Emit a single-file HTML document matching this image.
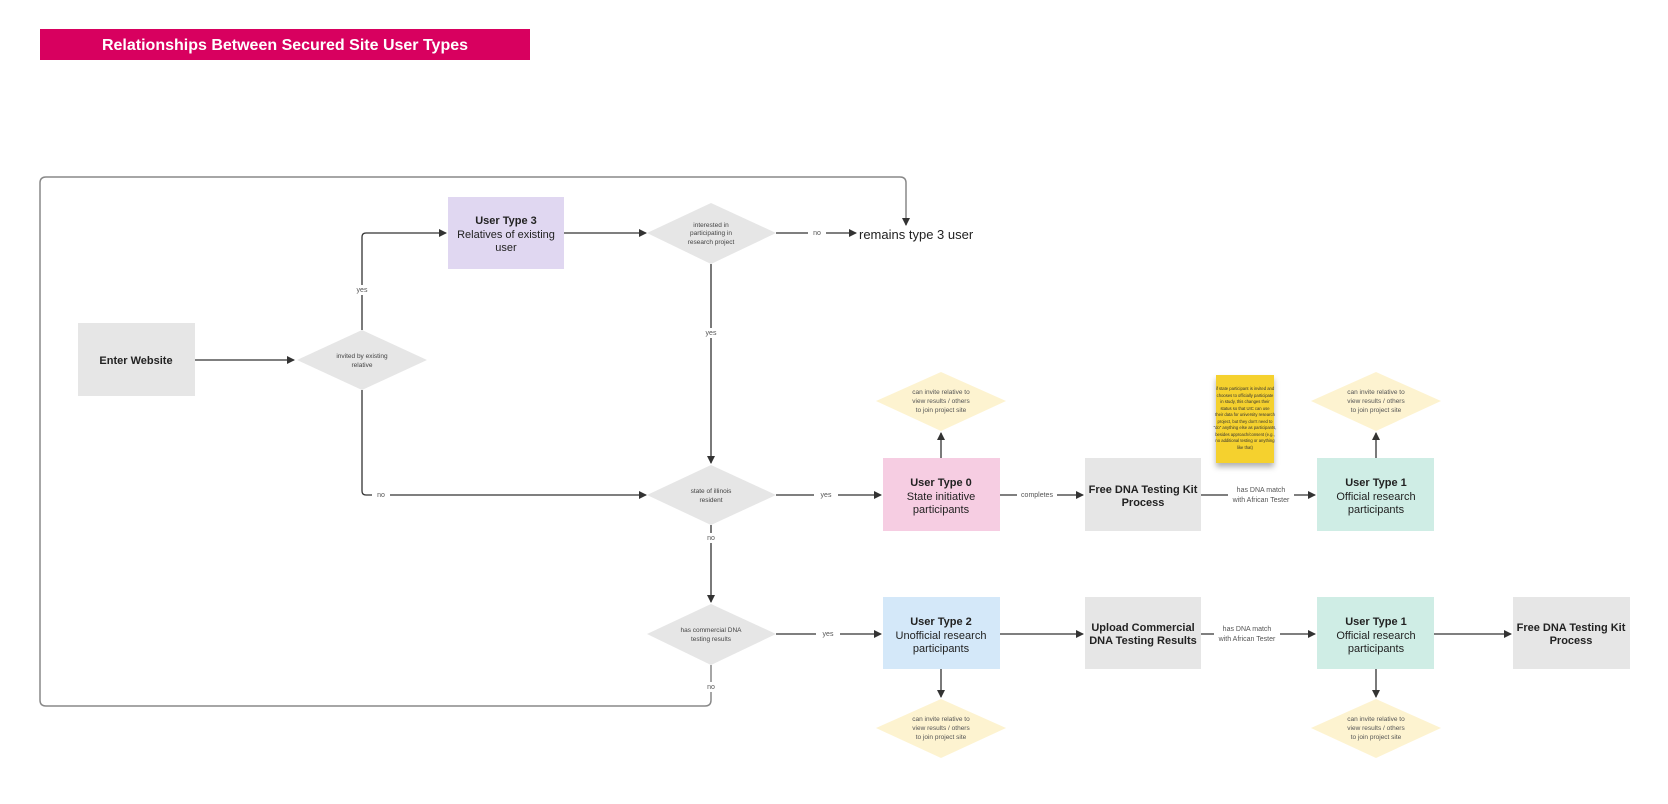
<!DOCTYPE html>
<html><head><meta charset="utf-8"><style>
html,body{margin:0;padding:0;background:#fff;}
svg{display:block;font-family:"Liberation Sans",sans-serif;}
</style></head><body>
<svg width="1668" height="804" viewBox="0 0 1668 804" xmlns="http://www.w3.org/2000/svg">
<defs>
<marker id="a" markerWidth="8" markerHeight="8" refX="7" refY="4" orient="auto" markerUnits="userSpaceOnUse"><path d="M0,0 L8,4 L0,8 Z" fill="#333"/></marker>
<filter id="sh" x="-20%" y="-20%" width="140%" height="150%"><feDropShadow dx="0" dy="4" stdDeviation="3" flood-color="#000" flood-opacity="0.3"/></filter>
</defs>
<!-- title -->
<rect x="40" y="29" width="490" height="31" fill="#d8005f"/>
<text x="285" y="50" text-anchor="middle" font-size="16" font-weight="bold" fill="#fff">Relationships Between Secured Site User Types</text>

<!-- loop -->
<path d="M711,665 V700 Q711,706 705,706 H46 Q40,706 40,700 V183 Q40,177 46,177 H900 Q906,177 906,183 V225" fill="none" stroke="#888" stroke-width="1.5" marker-end="url(#a)"/>

<g stroke="#333" stroke-width="1.3" fill="none">
<path d="M195,360 H294" marker-end="url(#a)"/>
<path d="M362,330 V237 Q362,233 366,233 H446" marker-end="url(#a)"/>
<path d="M564,233 H646" marker-end="url(#a)"/>
<path d="M776,233 H856" marker-end="url(#a)"/>
<path d="M711,264 V463" marker-end="url(#a)"/>
<path d="M362,390 V491 Q362,495 366,495 H646" marker-end="url(#a)"/>
<path d="M776,495 H881" marker-end="url(#a)"/>
<path d="M711,525 V602" marker-end="url(#a)"/>
<path d="M776,634 H881" marker-end="url(#a)"/>
<path d="M1000,495 H1083" marker-end="url(#a)"/>
<path d="M1201,495 H1315" marker-end="url(#a)"/>
<path d="M1000,634 H1083" marker-end="url(#a)"/>
<path d="M1201,634 H1315" marker-end="url(#a)"/>
<path d="M1434,634 H1511" marker-end="url(#a)"/>
<path d="M941,458 V433" marker-end="url(#a)"/>
<path d="M1376,458 V433" marker-end="url(#a)"/>
<path d="M941,669 V697" marker-end="url(#a)"/>
<path d="M1376,669 V697" marker-end="url(#a)"/>
</g>

<!-- label backgrounds -->
<g fill="#fff">
<rect x="350" y="285" width="24" height="10"/>
<rect x="699" y="328" width="24" height="10"/>
<rect x="808" y="228" width="18" height="10"/>
<rect x="372" y="490" width="18" height="10"/>
<rect x="814" y="490" width="24" height="10"/>
<rect x="699" y="533" width="24" height="10"/>
<rect x="816" y="629" width="24" height="10"/>
<rect x="699" y="682" width="24" height="10"/>
<rect x="1017" y="490" width="40" height="10"/>
<rect x="1228" y="483" width="66" height="24"/>
<rect x="1214" y="622" width="66" height="24"/>
</g>
<g font-size="7" fill="#555" text-anchor="middle">
<text x="362" y="292">yes</text>
<text x="711" y="335">yes</text>
<text x="817" y="235">no</text>
<text x="381" y="497">no</text>
<text x="826" y="497">yes</text>
<text x="711" y="540">no</text>
<text x="828" y="636">yes</text>
<text x="711" y="689">no</text>
<text x="1037" y="497">completes</text>
<text x="1261" y="492">has DNA match</text>
<text x="1261" y="502">with African Tester</text>
<text x="1247" y="631">has DNA match</text>
<text x="1247" y="641">with African Tester</text>
</g>
<text x="859" y="239" font-size="13" fill="#222">remains type 3 user</text>

<!-- boxes -->
<rect x="78" y="323" width="117" height="73" fill="#e6e6e6"/>
<text x="136" y="364" text-anchor="middle" font-size="11" font-weight="bold" fill="#222">Enter Website</text>

<rect x="448" y="197" width="116" height="72" fill="#e0d7f1"/>
<g text-anchor="middle" font-size="11" fill="#222">
<text x="506" y="224" font-weight="bold">User Type 3</text>
<text x="506" y="238">Relatives of existing</text>
<text x="506" y="251">user</text>
</g>

<rect x="883" y="458" width="117" height="73" fill="#f6cde2"/>
<g text-anchor="middle" font-size="11" fill="#222">
<text x="941" y="486" font-weight="bold">User Type 0</text>
<text x="941" y="500">State initiative</text>
<text x="941" y="513">participants</text>
</g>
<rect x="1085" y="458" width="116" height="73" fill="#e6e6e6"/>
<g text-anchor="middle" font-size="11" fill="#222" font-weight="bold">
<text x="1143" y="493">Free DNA Testing Kit</text>
<text x="1143" y="506">Process</text>
</g>
<rect x="1317" y="458" width="117" height="73" fill="#cfede5"/>
<g text-anchor="middle" font-size="11" fill="#222">
<text x="1376" y="486" font-weight="bold">User Type 1</text>
<text x="1376" y="500">Official research</text>
<text x="1376" y="513">participants</text>
</g>

<rect x="883" y="597" width="117" height="72" fill="#d4e8f9"/>
<g text-anchor="middle" font-size="11" fill="#222">
<text x="941" y="625" font-weight="bold">User Type 2</text>
<text x="941" y="639">Unofficial research</text>
<text x="941" y="652">participants</text>
</g>
<rect x="1085" y="597" width="116" height="72" fill="#e6e6e6"/>
<g text-anchor="middle" font-size="11" fill="#222" font-weight="bold">
<text x="1143" y="631">Upload Commercial</text>
<text x="1143" y="644">DNA Testing Results</text>
</g>
<rect x="1317" y="597" width="117" height="72" fill="#cfede5"/>
<g text-anchor="middle" font-size="11" fill="#222">
<text x="1376" y="625" font-weight="bold">User Type 1</text>
<text x="1376" y="639">Official research</text>
<text x="1376" y="652">participants</text>
</g>
<rect x="1513" y="597" width="117" height="72" fill="#e6e6e6"/>
<g text-anchor="middle" font-size="11" fill="#222" font-weight="bold">
<text x="1571" y="631">Free DNA Testing Kit</text>
<text x="1571" y="644">Process</text>
</g>

<!-- gray diamonds -->
<g fill="#e6e6e6">
<polygon points="362,330 427,360 362,390 297,360"/>
<polygon points="711,203 776,233 711,264 647,233"/>
<polygon points="711,465 776,495 711,525 647,495"/>
<polygon points="711,604 776,634 711,665 647,634"/>
</g>
<g text-anchor="middle" font-size="6.5" fill="#444">
<text x="362" y="358">invited by existing</text>
<text x="362" y="367">relative</text>
<text x="711" y="227">interested in</text>
<text x="711" y="235">participating in</text>
<text x="711" y="244">research project</text>
<text x="711" y="493">state of illinois</text>
<text x="711" y="502">resident</text>
<text x="711" y="632">has commercial DNA</text>
<text x="711" y="641">testing results</text>
</g>

<!-- yellow diamonds -->
<g fill="#fdf3d0">
<polygon points="941,372 1006,401 941,431 876,401"/>
<polygon points="1376,372 1441,401 1376,431 1311,401"/>
<polygon points="941,699 1006,728 941,758 876,728"/>
<polygon points="1376,699 1441,728 1376,758 1311,728"/>
</g>
<g text-anchor="middle" font-size="6.5" fill="#555">
<text x="941" y="394">can invite relative to</text><text x="941" y="403">view results / others</text><text x="941" y="412">to join project site</text>
<text x="1376" y="394">can invite relative to</text><text x="1376" y="403">view results / others</text><text x="1376" y="412">to join project site</text>
<text x="941" y="721">can invite relative to</text><text x="941" y="730">view results / others</text><text x="941" y="739">to join project site</text>
<text x="1376" y="721">can invite relative to</text><text x="1376" y="730">view results / others</text><text x="1376" y="739">to join project site</text>
</g>

<!-- sticky -->
<rect x="1216" y="375" width="58" height="88" fill="#f5d12f" filter="url(#sh)"/>
<g text-anchor="middle" font-size="4.2" fill="#333">
<text x="1245" y="390">if state participant is invited and</text>
<text x="1245" y="397">chooses to officially participate</text>
<text x="1245" y="403">in study, this changes their</text>
<text x="1245" y="410">status so that UIC can use</text>
<text x="1245" y="416">their data for university research</text>
<text x="1245" y="423">project, but they don't need to</text>
<text x="1245" y="429">"do" anything else as participants,</text>
<text x="1245" y="436">besides approach/consent (e.g.,</text>
<text x="1245" y="442">no additional testing or anything</text>
<text x="1245" y="449">like that)</text>
</g>
</svg>
</body></html>
